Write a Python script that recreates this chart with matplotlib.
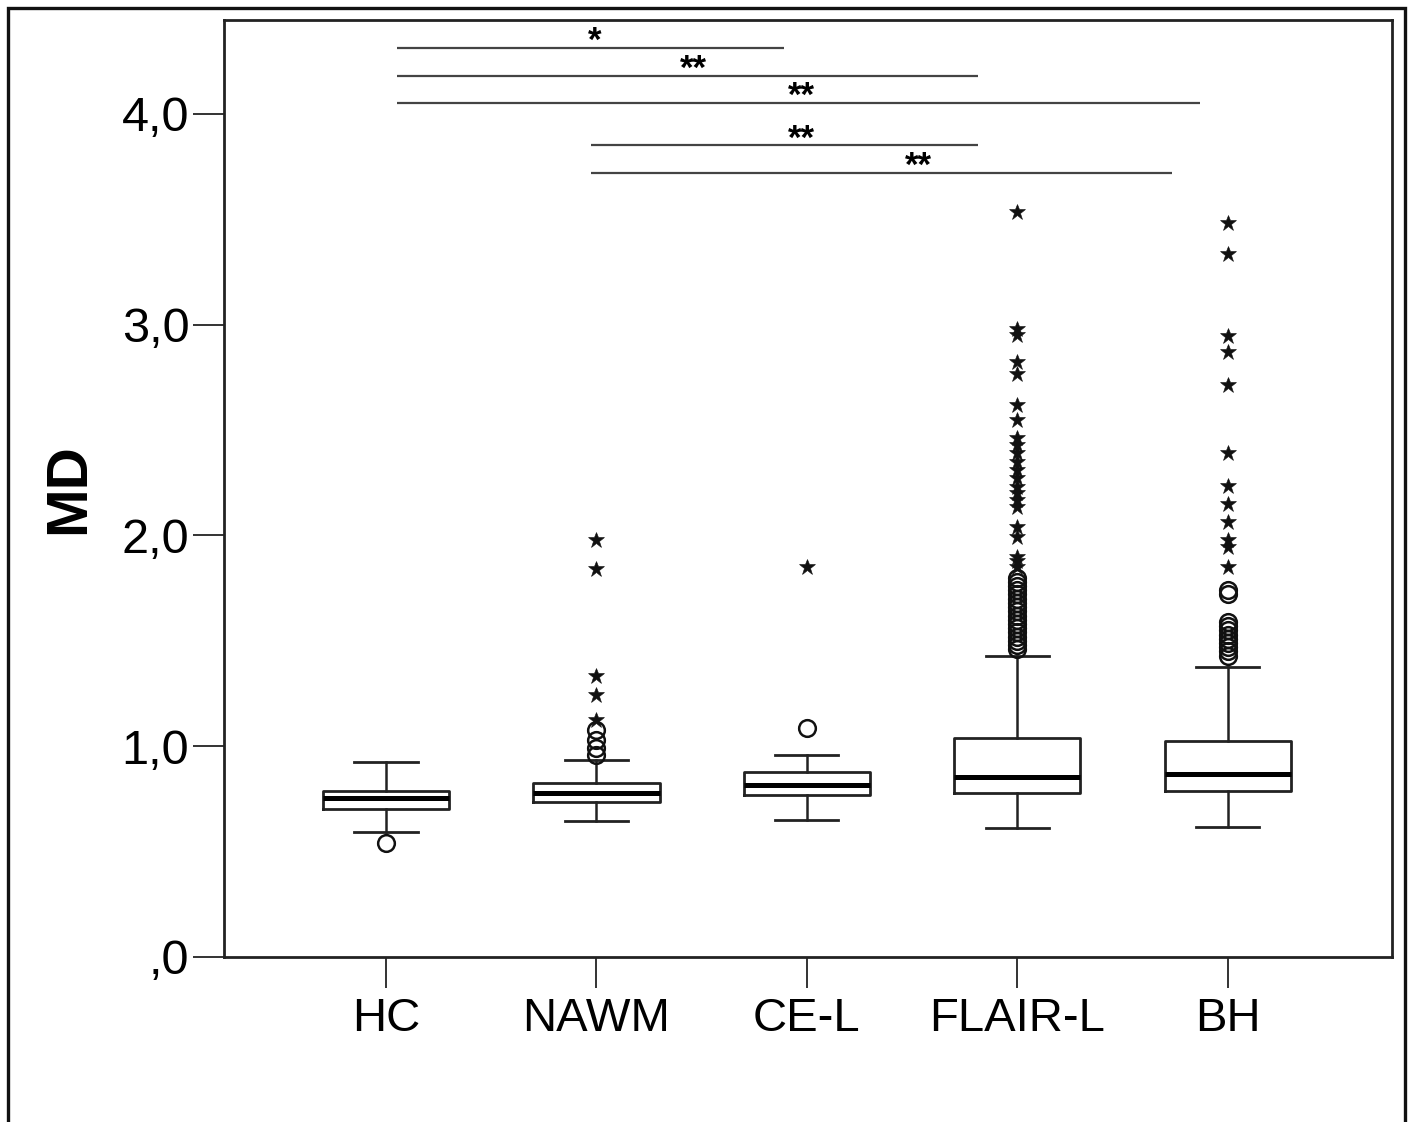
import matplotlib
matplotlib.use("Agg")
import matplotlib.pyplot as plt
from matplotlib.patches import Rectangle

# summary values
groups = ["HC", "NAWM", "CE-L", "FLAIR-L", "BH"]
whislo = [0.592, 0.645, 0.650, 0.611, 0.618]
q1 = [0.700, 0.737, 0.769, 0.777, 0.789]
med = [0.752, 0.777, 0.816, 0.856, 0.868]
q3 = [0.789, 0.824, 0.879, 1.041, 1.027]
whishi = [0.927, 0.935, 0.958, 1.428, 1.378]

# "o" outliers
out_circles = [
    [0.539],
    [0.96, 0.99, 1.03, 1.077],
    [1.088],
    [1.46, 1.48, 1.50, 1.52, 1.54, 1.56, 1.58, 1.60, 1.62, 1.64, 1.66,
     1.68, 1.70, 1.72, 1.74, 1.76, 1.78, 1.80],
    [1.43, 1.45, 1.47, 1.49, 1.51, 1.53, 1.55, 1.57, 1.59, 1.72, 1.74],
]
# "*" extreme values
out_stars = [
    [],
    [1.125, 1.243, 1.333, 1.84, 1.98],
    [1.852],
    [1.85, 1.88, 1.90, 1.994, 2.042, 2.137, 2.169, 2.20, 2.232, 2.273,
     2.31, 2.35, 2.39, 2.429, 2.461, 2.548, 2.619, 2.766, 2.825, 2.951,
     2.978, 3.533],
    [1.852, 1.947, 1.979, 2.066, 2.150, 2.235, 2.393, 2.714, 2.872,
     2.947, 3.336, 3.481],
]

ytick_vals = [0, 1, 2, 3, 4]
ytick_labels = [",0", "1,0", "2,0", "3,0", "4,0"]

# significance bars
sig_x0 = [1.052, 1.052, 1.052, 1.974, 1.974]
sig_x1 = [2.891, 3.812, 4.867, 3.812, 4.734]
sig_y = [4.315, 4.181, 4.053, 3.853, 3.721]
sig_text = ["*", "**", "**", "**", "**"]
sig_text_x = [1.993, 2.463, 2.976, 2.976, 3.532]

plt.rcParams["font.family"] = ["Liberation Sans", "DejaVu Sans"]

fig = plt.figure(figsize=(14.12, 11.22), dpi=100)
ax = fig.add_axes([0.1586, 0.1471, 0.8272, 0.8351])

positions = list(range(1, len(groups) + 1))
stats = []
for i in range(len(groups)):
    stats.append({"med": med[i], "q1": q1[i], "q3": q3[i],
                  "whislo": whislo[i], "whishi": whishi[i],
                  "fliers": out_circles[i], "label": groups[i]})

ax.bxp(stats, positions=positions, widths=0.6, capwidths=0.3,
       boxprops=dict(color="#222222", linewidth=2.0),
       whiskerprops=dict(color="#222222", linewidth=1.8),
       capprops=dict(color="#222222", linewidth=2.0),
       medianprops=dict(color="black", linewidth=3.6),
       flierprops=dict(marker="o", markersize=12, markerfacecolor="none",
                       markeredgecolor="#111111", markeredgewidth=1.8,
                       linestyle="none"))

for p, vals in zip(positions, out_stars):
    if vals:
        ax.plot([p] * len(vals), vals, linestyle="none", marker="*",
                markersize=12, color="#111111", markeredgewidth=0.4)

for x0, x1, y, t, tx in zip(sig_x0, sig_x1, sig_y, sig_text, sig_text_x):
    ax.plot([x0, x1], [y, y], color="#444444", linewidth=1.6,
            solid_capstyle="butt")
    ax.annotate(t, xy=(tx, y), xytext=(0, -2.5), textcoords="offset points",
                ha="center", va="baseline", fontsize=25, fontweight="bold")

ax.set_xlim(0.23, 5.78)
ax.set_ylim(0, 4.446)
ax.set_xticks(positions)
ax.set_xticklabels(groups, fontsize=34)
ax.set_yticks(ytick_vals)
ax.set_yticklabels(ytick_labels, fontsize=35)
ax.tick_params(axis="x", direction="out", length=22, width=1.4,
               color="#333333", pad=7)
ax.tick_params(axis="y", direction="out", length=22, width=1.4,
               color="#333333", pad=3)
for s in ax.spines.values():
    s.set_linewidth(2.0)
    s.set_color("#222222")

fig.text(0.049, 0.565, "MD", rotation=90, ha="center", va="center",
         fontsize=42, fontweight="bold")

# outer frame round the figure (bottom edge is cut off)
fig.patches.append(Rectangle((0.0057, -0.05), 0.9894, 1.0429,
                             transform=fig.transFigure, fill=False,
                             linewidth=2.4, edgecolor="#111111"))

fig.savefig("out.png", dpi=100)
